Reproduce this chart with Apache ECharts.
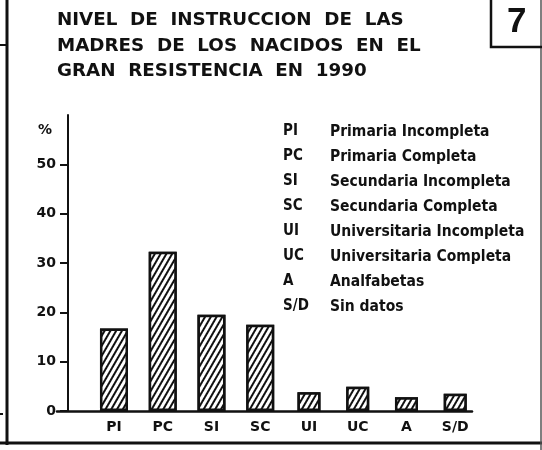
<!DOCTYPE html>
<html>
<head>
<meta charset="utf-8">
<script src="https://cdn.jsdelivr.net/npm/echarts@6/dist/echarts.min.js"></script>
<style>
  html, body { margin: 0; padding: 0; background: #ffffff; }
  #chart { width: 542px; height: 450px; }
</style>
</head>
<body>
<div id="chart"></div>
<script>
// Nivel de instrucción de las madres (%), Gran Resistencia 1990
const categories = ['PI', 'PC', 'SI', 'SC', 'UI', 'UC', 'A', 'S/D'];
const values = [16.7, 32.3, 19.5, 17.5, 3.8, 4.9, 2.8, 3.5];
const descriptions = [
  'Primaria Incompleta',
  'Primaria Completa',
  'Secundaria Incompleta',
  'Secundaria Completa',
  'Universitaria Incompleta',
  'Universitaria Completa',
  'Analfabetas',
  'Sin datos'
];
const yTicks = [0, 10, 20, 30, 40, 50];
const titleLines = [
  'NIVEL  DE  INSTRUCCION  DE  LAS',
  'MADRES  DE  LOS  NACIDOS  EN  EL',
  'GRAN  RESISTENCIA  EN  1990'
];
const plateNumber = '7';

const INK = '#111111';
const FONT = '"DejaVu Sans", sans-serif';
const LEGEND_FONT = '"DejaVu Sans Condensed", "DejaVu Sans", sans-serif';

// primary/secondary levels are drawn wider than the remaining ones
const NARROW_FROM = 4;
const wideData = values.map((v, i) => (i < NARROW_FROM ? v : null));
const narrowData = values.map((v, i) => (i >= NARROW_FROM ? v : null));

const hatch = {
  symbol: 'rect',
  symbolSize: 1,
  color: INK,
  backgroundColor: '#ffffff',
  dashArrayX: [1, 0],
  dashArrayY: [2, 2.6],
  rotation: -Math.PI / 3
};

const barStyle = {
  color: '#ffffff',
  borderColor: INK,
  borderWidth: 2.5,
  decal: hatch
};

const legendTexts = [];
categories.forEach((code, i) => {
  legendTexts.push({
    type: 'text', left: 283, top: 124 + i * 25,
    style: { text: code, font: 'bold 15px ' + LEGEND_FONT, fill: INK }
  });
  legendTexts.push({
    type: 'text', left: 330, top: 124 + i * 25,
    style: { text: descriptions[i], font: 'bold 15.5px ' + LEGEND_FONT, fill: INK }
  });
});

const frame = [
  { type: 'line', shape: { x1: 7, y1: 0, x2: 7, y2: 445 }, style: { stroke: INK, lineWidth: 3 } },
  { type: 'line', shape: { x1: 0, y1: 45, x2: 7, y2: 45 }, style: { stroke: INK, lineWidth: 2 } },
  { type: 'line', shape: { x1: 0, y1: 414, x2: 3, y2: 414 }, style: { stroke: INK, lineWidth: 2 } },
  { type: 'line', shape: { x1: 0, y1: 443, x2: 542, y2: 443 }, style: { stroke: INK, lineWidth: 3 } },
  { type: 'line', shape: { x1: 541, y1: 0, x2: 541, y2: 450 }, style: { stroke: '#555555', lineWidth: 1.5 } },
  { type: 'rect', shape: { x: 491, y: -4, width: 60, height: 51 }, style: { stroke: INK, lineWidth: 2.5, fill: 'none' } },
  {
    type: 'text', left: 507, top: 5,
    style: { text: plateNumber, font: 'bold 35px "Liberation Sans", sans-serif', fill: INK }
  }
];

const chart = echarts.init(document.getElementById('chart'), null, { renderer: 'canvas' });
chart.setOption({
  animation: false,
  backgroundColor: '#ffffff',
  title: {
    text: titleLines.join('\n'),
    left: 57,
    top: 8,
    padding: 0,
    textStyle: { fontFamily: FONT, fontWeight: 'bold', fontSize: 18.3, lineHeight: 25.5, color: INK }
  },
  grid: [
    // frame grid: the baseline runs a little past the vertical axis on the left
    { left: 57, right: 70, top: 115, bottom: 39, outerBoundsMode: 'none', containLabel: false },
    // bar grid
    { left: 89.6, right: 62.4, top: 115, bottom: 39, outerBoundsMode: 'none', containLabel: false }
  ],
  xAxis: [
    {
      gridIndex: 0, type: 'value', min: -11, max: 404,
      axisLine: { show: true, lineStyle: { color: INK, width: 2.5 } },
      axisTick: { show: false }, axisLabel: { show: false }, splitLine: { show: false }
    },
    {
      gridIndex: 1, type: 'category', data: categories,
      axisLine: { show: false }, axisTick: { show: false },
      axisLabel: { color: INK, fontFamily: FONT, fontWeight: 'bold', fontSize: 14, margin: 9 }
    },
    {
      gridIndex: 1, type: 'category', data: categories, show: false
    }
  ],
  yAxis: [
    {
      gridIndex: 0, type: 'value', min: 0, max: 60, interval: 10,
      name: '%', nameLocation: 'end', nameGap: -22,
      nameTextStyle: { color: INK, fontFamily: FONT, fontWeight: 'bold', fontSize: 14, align: 'right', padding: [0, 16, 0, 0] },
      axisLine: { show: true, onZero: true, lineStyle: { color: INK, width: 2 } },
      axisTick: { show: true, length: 8, customValues: yTicks, lineStyle: { color: INK, width: 2 } },
      axisLabel: { customValues: yTicks, color: INK, fontFamily: FONT, fontWeight: 'bold', fontSize: 14, margin: 1 },
      splitLine: { show: false }
    },
    { gridIndex: 1, type: 'value', min: 0, max: 60, show: false }
  ],
  series: [
    {
      type: 'bar', xAxisIndex: 1, yAxisIndex: 1,
      data: wideData, barWidth: 28, itemStyle: barStyle
    },
    {
      type: 'bar', xAxisIndex: 2, yAxisIndex: 1,
      data: narrowData, barWidth: 23, itemStyle: barStyle
    }
  ],
  graphic: frame.concat(legendTexts)
});
</script>
</body>
</html>
